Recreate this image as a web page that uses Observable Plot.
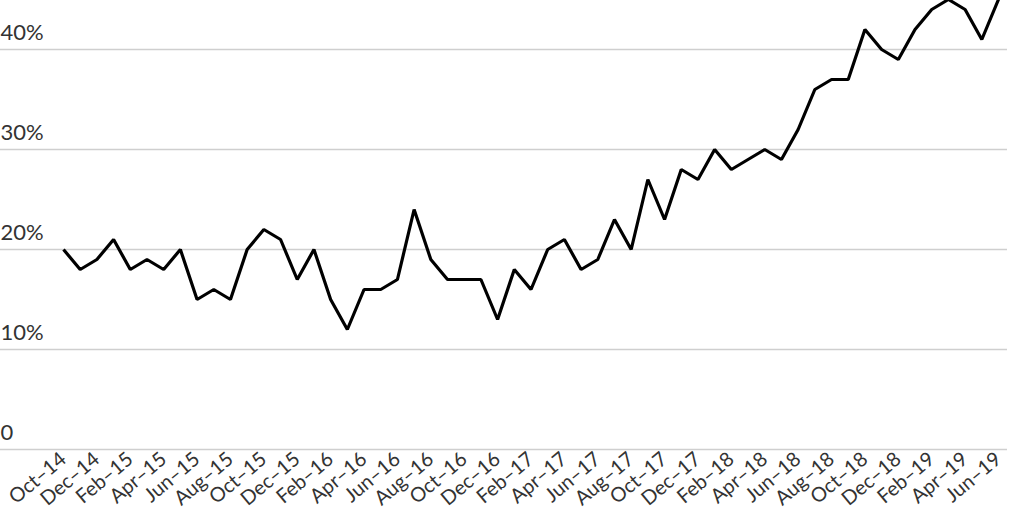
<!DOCTYPE html>
<html>
<head>
<meta charset="utf-8">
<script src="https://cdn.jsdelivr.net/npm/d3@7"></script>
<script src="https://cdn.jsdelivr.net/npm/@observablehq/plot@0.6"></script>
<style>
  html, body { margin: 0; padding: 0; background: #fff; }
  #chart { width: 1024px; height: 512px; overflow: hidden; }
  #chart svg { display: block; }
</style>
</head>
<body>
<div id="chart"></div>
<script>
const months = [
  "Oct–14","Nov–14","Dec–14",
  "Jan–15","Feb–15","Mar–15","Apr–15","May–15","Jun–15","Jul–15","Aug–15","Sep–15","Oct–15","Nov–15","Dec–15",
  "Jan–16","Feb–16","Mar–16","Apr–16","May–16","Jun–16","Jul–16","Aug–16","Sep–16","Oct–16","Nov–16","Dec–16",
  "Jan–17","Feb–17","Mar–17","Apr–17","May–17","Jun–17","Jul–17","Aug–17","Sep–17","Oct–17","Nov–17","Dec–17",
  "Jan–18","Feb–18","Mar–18","Apr–18","May–18","Jun–18","Jul–18","Aug–18","Sep–18","Oct–18","Nov–18","Dec–18",
  "Jan–19","Feb–19","Mar–19","Apr–19","May–19","Jun–19"
];
const values = [
  20,18,19,
  21,18,19,18,20,15,16,15,20,22,21,17,
  20,15,12,16,16,17,24,19,17,17,17,13,
  18,16,20,21,18,19,23,20,27,23,28,27,
  30,28,29,30,29,32,36,37,37,42,40,39,
  42,44,45,44,41,45
];
const xTickLabels = [
  "Oct–14","Dec–14","Feb–15","Apr–15","Jun–15","Aug–15","Oct–15","Dec–15",
  "Feb–16","Apr–16","Jun–16","Aug–16","Oct–16","Dec–16","Feb–17","Apr–17",
  "Jun–17","Aug–17","Oct–17","Dec–17","Feb–18","Apr–18","Jun–18","Aug–18",
  "Oct–18","Dec–18","Feb–19","Apr–19","Jun–19"
];
const yTicks = [0, 10, 20, 30, 40];
const yTickLabels = ["0", "10%", "20%", "30%", "40%"];

const data = months.map((m, i) => ({month: m, value: values[i]}));

const chart = Plot.plot({
  width: 1024,
  height: 512,
  marginLeft: 0,
  marginRight: 17,
  marginTop: 0,
  marginBottom: 63,
  style: {fontFamily: "Lato, 'Noto Sans', sans-serif", fontSize: "20px", background: "#fff"},
  x: {type: "point", domain: months, range: [63, 998], padding: 0},
  y: {domain: [0, 44.9], axis: null},
  marks: [
    Plot.ruleY(yTicks, {stroke: "#cfcfcf", strokeWidth: 1.5}),
    Plot.text(yTicks, {
      y: d => d,
      text: (d, i) => yTickLabels[i],
      frameAnchor: "left",
      textAnchor: "start",
      lineAnchor: "bottom",
      dy: -10,
      fontSize: 22,
      fill: "#333"
    }),
    Plot.axisX(xTickLabels, {
      tickSize: 0,
      tickRotate: -40,
      tickPadding: 7,
      fill: "#333",
      label: null
    }),
    Plot.line(data, {x: "month", y: "value", stroke: "#000", strokeWidth: 3.2, strokeLinejoin: "miter", strokeLinecap: "butt"})
  ]
});
document.getElementById("chart").appendChild(chart);
</script>
</body>
</html>
